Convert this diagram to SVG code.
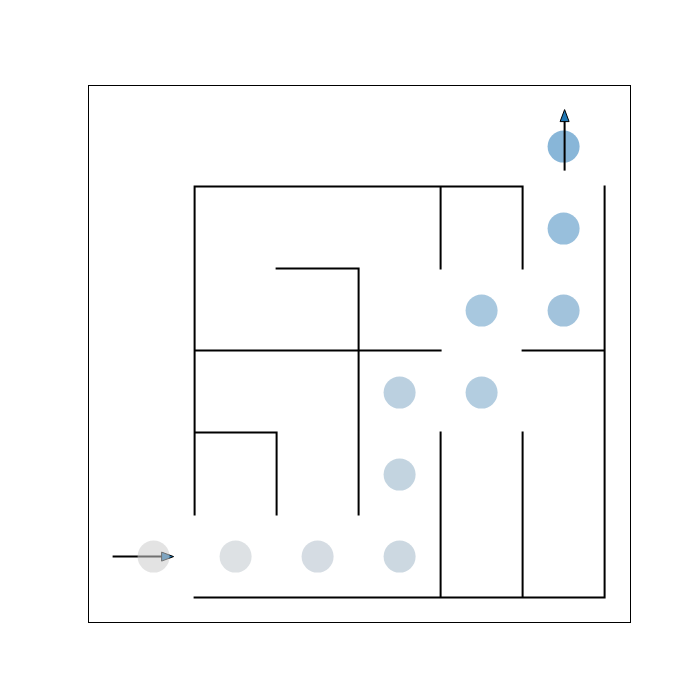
<svg xmlns="http://www.w3.org/2000/svg" width="700" height="700" viewBox="0 0 700 700">
<defs>
<style>
.wall{stroke:#000;stroke-width:2;fill:none;stroke-linecap:square}
.arr{stroke:#000;stroke-width:2;fill:none}
.head{fill:#1f77b4;stroke:#000;stroke-width:1;stroke-linejoin:miter}
</style>
</defs>
<rect x="0" y="0" width="700" height="700" fill="#fff"/>
<rect x="88.5" y="85.5" width="542" height="537" fill="none" stroke="#000" stroke-width="1"/>
<g id="walls" transform="translate(0.6,0.6)">
<path class="wall" d="M194 186H522M194 186V514M440 186V268M522 186V268M604 186V597M276 268H358M358 268V514M194 350H440M522 350H604M194 432H276M276 432V514M440 432V597M522 432V597M194 597H604"/>
</g>
<g id="start-arrow" transform="translate(0.6,0.6)">
<line class="arr" x1="112" y1="556" x2="163" y2="556"/>
<polygon class="head" points="173,556 161,551.5 161,560.5"/>
</g>
<g id="path-cells" transform="translate(0.6,0.6)">
<circle cx="153" cy="556" r="16" fill="#cccccc" fill-opacity="0.55"/>
<circle cx="235" cy="556" r="16" fill="#dde1e4"/>
<circle cx="317" cy="556" r="16" fill="#d5dce3"/>
<circle cx="399" cy="556" r="16" fill="#ccd8e1"/>
<circle cx="399" cy="474" r="16" fill="#c3d4e0"/>
<circle cx="399" cy="392" r="16" fill="#bbd0e0"/>
<circle cx="481" cy="392" r="16" fill="#b3cde0"/>
<circle cx="481" cy="310" r="16" fill="#a8c8df"/>
<circle cx="563" cy="310" r="16" fill="#a2c3dc"/>
<circle cx="563" cy="228" r="16" fill="#98bfdc"/>
<circle cx="563" cy="146" r="16" fill="#88b6d8"/>
</g>
<g id="end-arrow" transform="translate(0.6,0.6)">
<line class="arr" x1="564" y1="170" x2="564" y2="120"/>
<polygon class="head" points="564,109 559.5,121 568.5,121"/>
</g>
</svg>
